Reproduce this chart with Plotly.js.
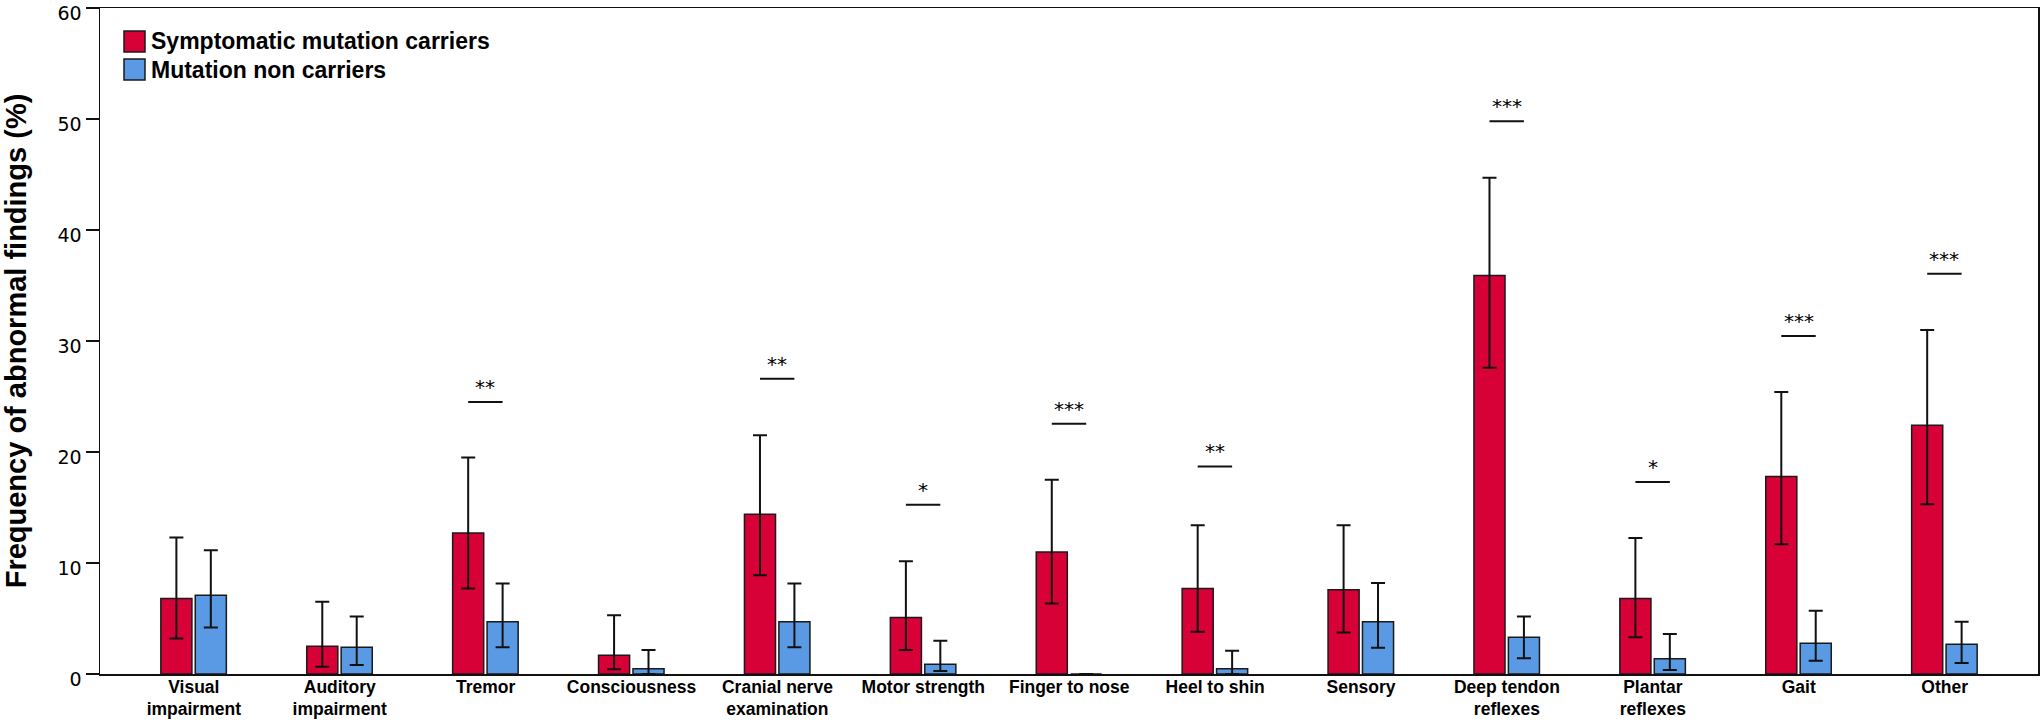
<!DOCTYPE html>
<html>
<head>
<meta charset="utf-8">
<script src="https://cdn.plot.ly/plotly-3.0.1.min.js"></script>
<style>html,body{margin:0;padding:0;background:#fff;}#chart{width:2040px;height:722px;}</style>
</head>
<body>
<div id="chart"></div>
<script>
const categories = ["Visual<br>impairment", "Auditory<br>impairment", "Tremor", "Consciousness", "Cranial nerve<br>examination", "Motor strength", "Finger to nose", "Heel to shin", "Sensory", "Deep tendon<br>reflexes", "Plantar<br>reflexes", "Gait", "Other"];
const carriers      = [6.8, 2.5, 12.7, 1.7, 14.4, 5.1, 11.0, 7.7, 7.6, 35.9, 6.8, 17.8, 22.4];
const carriersHigh  = [12.3, 6.5, 19.5, 5.3, 21.5, 10.15, 17.5, 13.4, 13.4, 44.7, 12.25, 25.4, 31.0];
const carriersLow   = [3.2, 0.66, 7.7, 0.42, 8.9, 2.16, 6.35, 3.8, 3.74, 27.6, 3.32, 11.7, 15.3];
const nonCarriers   = [7.1, 2.4, 4.7, 0.48, 4.7, 0.88, 0, 0.48, 4.7, 3.3, 1.38, 2.78, 2.69];
const nonHigh       = [11.15, 5.18, 8.15, 2.16, 8.15, 3.0, 0, 2.1, 8.2, 5.18, 3.6, 5.7, 4.7];
const nonLow        = [4.2, 0.8, 2.4, 0, 2.4, 0.27, 0, 0, 2.36, 1.41, 0.36, 1.2, 1.0];
const sigLabels     = ["", "", "**", "", "**", "*", "***", "**", "", "***", "*", "***", "***"];
const sigLevels     = [null, null, 24.5, null, 26.6, 15.25, 22.55, 18.7, null, 49.8, 17.3, 30.45, 36.05];
const yTicks        = [0, 10, 20, 30, 40, 50, 60];
const seriesNames   = ["Symptomatic mutation carriers", "Mutation non carriers"];

const RED = "rgb(215,0,55)";
const BLUE = "rgb(90,154,228)";
const idx = categories.map((_, i) => i);
const BW = 0.213, OFF_R = -0.226, OFF_B = 0.01;

const errStyle = {type: "data", symmetric: false, color: "#111", thickness: 2, width: 7};
const traces = [
  {type: "bar", name: seriesNames[0], x: idx, y: carriers, width: BW, offset: OFF_R,
   marker: {color: RED, line: {color: "#1a1a1a", width: 1.5}},
   error_y: Object.assign({}, errStyle, {array: carriersHigh.map((h, i) => h - carriers[i]), arrayminus: carriersLow.map((l, i) => carriers[i] - l)}),
   showlegend: false, hoverinfo: "y"},
  {type: "bar", name: seriesNames[1], x: idx, y: nonCarriers, width: BW, offset: OFF_B,
   marker: {color: BLUE, line: {color: "#1a1a1a", width: 1.5}},
   error_y: Object.assign({}, errStyle, {array: nonHigh.map((h, i) => h - nonCarriers[i]), arrayminus: nonLow.map((l, i) => nonCarriers[i] - l)}),
   showlegend: false, hoverinfo: "y"}
];

const redC = OFF_R + BW / 2, blueC = OFF_B + BW / 2;
const shapes = [];
const annotations = [];
sigLabels.forEach((s, i) => {
  if (!s) return;
  shapes.push({type: "line", xref: "x", yref: "y", x0: i + redC, x1: i + blueC, y0: sigLevels[i], y1: sigLevels[i], line: {color: "#111", width: 2}});
  annotations.push({xref: "x", yref: "y", x: i + (redC + blueC) / 2, y: sigLevels[i], text: s, showarrow: false,
    yanchor: "bottom", yshift: 1, font: {family: "DejaVu Sans", size: 20, color: "#000"}});
});

// custom legend (swatch positions in paper units)
const legColors = [RED, BLUE];
const legY = [[0.9339, 0.9655], [0.8919, 0.9234]];
seriesNames.forEach((n, k) => {
  shapes.push({type: "rect", xref: "paper", yref: "paper", x0: 0.01238, x1: 0.02322, y0: legY[k][0], y1: legY[k][1],
    fillcolor: legColors[k], line: {color: "#1a1a1a", width: 1.5}});
  annotations.push({xref: "paper", yref: "paper", x: 0.0253, y: (legY[k][0] + legY[k][1]) / 2, xanchor: "left", yanchor: "middle",
    text: n, showarrow: false, font: {family: "Liberation Sans, Arial, sans-serif", size: 23, color: "#000", weight: "bold"}});
});

const layout = {
  width: 2040, height: 722,
  margin: {l: 100, r: 2, t: 8, b: 48},
  paper_bgcolor: "#fff", plot_bgcolor: "#fff",
  barmode: "overlay",
  showlegend: false,
  font: {family: "Liberation Sans, Arial, sans-serif", color: "#000"},
  xaxis: {
    range: [-0.643, 12.64], tickvals: idx, ticktext: categories,
    showgrid: false, zeroline: false, showline: true, linecolor: "#111", linewidth: 1.5, mirror: true,
    ticks: "", ticklabelstandoff: -4,
    tickfont: {family: "Liberation Sans, Arial, sans-serif", size: 17.5, color: "#000", weight: "bold"}
  },
  yaxis: {
    range: [0, 60], tickvals: yTicks, ticktext: yTicks.map(String), ticklabeloverflow: "allow", ticklabelshift: 5,
    showgrid: false, zeroline: false, showline: true, linecolor: "#111", linewidth: 1.5, mirror: true,
    ticks: "outside", ticklen: 13, tickwidth: 1.5, tickcolor: "#111",
    tickfont: {family: "DejaVu Sans, sans-serif", size: 19, color: "#000"},
    title: {text: "Frequency of abnormal findings (%)", standoff: 24,
      font: {family: "Liberation Sans, Arial, sans-serif", size: 29, color: "#000", weight: "bold"}}
  },
  shapes: shapes,
  annotations: annotations
};

Plotly.newPlot("chart", traces, layout, {displayModeBar: false, staticPlot: true});
</script>
</body>
</html>
